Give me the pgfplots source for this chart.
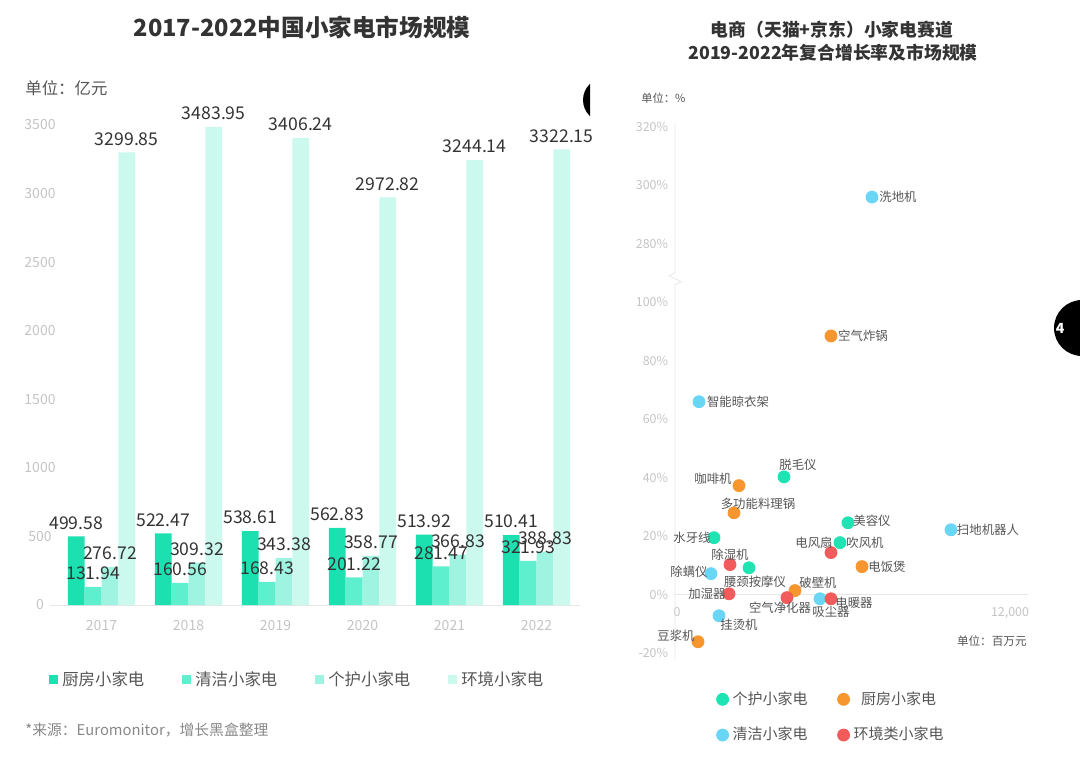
\documentclass[border=0pt]{standalone}
\usepackage{fontspec}
\setmainfont{Noto Sans CJK SC}
\usepackage{pgfplots}
\usepackage{pgfplotstable}
\pgfplotsset{compat=1.18}

\definecolor{ckit}{HTML}{1CE0B0}
\definecolor{ccln}{HTML}{5EEFCF}
\definecolor{cper}{HTML}{9FF4E1}
\definecolor{cenv}{HTML}{CBF9EE}
\definecolor{sgreen}{HTML}{1EE3B2}
\definecolor{sorange}{HTML}{F7962F}
\definecolor{sblue}{HTML}{6AD6F6}
\definecolor{sred}{HTML}{F25B5B}
\definecolor{tdark}{HTML}{333333}
\definecolor{tmid}{HTML}{555555}
\definecolor{tgray}{HTML}{888888}
\definecolor{tick}{HTML}{C4C4C4}
\definecolor{axl}{HTML}{E6E6E6}

% market size, 100 million yuan
\pgfplotstableread{
year kitchen clean personal env
0 499.58 131.94 276.72 3299.85
1 522.47 160.56 309.32 3483.95
2 538.61 168.43 343.38 3406.24
3 562.83 201.22 358.77 2972.82
4 513.92 281.47 366.83 3244.14
5 510.41 321.93 388.83 3322.15
}\market

% x: market size (million yuan), y: CAGR (%), dx/dy: label offset in px
\pgfplotstableread{
x y name dx dy
3856 40.3 脱毛仪 14 -12
6162 24.6 美容仪 24 -2
1333 19.5 水牙线 -22 0
5874 17.8 吹风机 25 0
2595 9.2 腰颈按摩仪 6 14
}\personal
\pgfplotstableread{
x y name dx dy
5550 88.5 空气炸锅 32 0
2234 37.3 咖啡机 -26 -7
2054 28.0 多功能料理锅 24 -9
6667 9.6 电饭煲 25 0
4252 1.4 破壁机 23 -8
757 -16.1 豆浆机 -22 -6
}\kitchen
\pgfplotstableread{
x y name dx dy
7027 296 洗地机 26 0
793 66.0 智能晾衣架 39 0
9874 22.2 扫地机器人 37 0
1225 7.2 除螨仪 -22 -2
5153 -1.4 吸尘器 11 13
1514 -7.2 挂烫机 20 9
}\cleaning
\pgfplotstableread{
x y name dx dy
5550 14.4 电风扇 -17 -10
1910 10.3 除湿机 0 -10
1874 0.3 加湿器 -22 0
3964 -1.0 空气净化器 -7 10
5550 -1.4 电暖器 23 4
}\environ

\begin{document}
\begin{tikzpicture}
\path[use as bounding box] (0pt,0pt) rectangle (540pt,-379pt);

% ---------- left: bar chart ----------
\node[font=\bfseries\fontsize{11.8}{14}\selectfont, text=tdark] at (151pt,-13.5pt) {2017-2022中国小家电市场规模};
\node[anchor=west, font=\fontsize{8.2}{10}\selectfont, text=tmid, inner sep=0pt] at (12.5pt,-44pt) {单位：亿元};
\node[anchor=west, font=\fontsize{7.4}{9}\selectfont, text=tgray, inner sep=0pt] at (12.5pt,-365pt) {*来源：Euromonitor，增长黑盒整理};

\begin{axis}[
    at={(25pt,-302.5pt)}, anchor=south west,
    scale only axis, width=265pt, height=240pt,
    ybar=0pt, bar width=8.4pt,
    xmin=-0.592, xmax=5.5, ymin=0, ymax=3500,
    xtick={0,...,5}, xticklabels={2017,2018,2019,2020,2021,2022},
    ytick={0,500,...,3500},
    axis x line*=bottom, axis y line*=left,
    x axis line style={draw=axl, -},
    y axis line style={draw=none},
    major tick length=0pt,
    /pgf/number format/1000 sep={},
    /pgf/number format/assume math mode=true,
    tick label style={font=\fontsize{7}{8}\selectfont, text=tick},
    xticklabel style={yshift=-4pt},
    yticklabel style={anchor=center, xshift=-5pt},
    nodes near coords={\pgfmathprintnumber[fixed,fixed zerofill,precision=2,1000 sep={}]{\pgfplotspointmeta}},
    every node near coord/.append style={font=\fontsize{8.8}{10}\selectfont, text=tdark},
    clip=false,
    legend columns=4,
    legend style={draw=none, fill=none, anchor=west, at={(-0.002,-0.156)}, inner sep=0pt,
        font=\fontsize{8.2}{10}\selectfont, text=tmid,
        /tikz/every even column/.append style={column sep=17pt}},
    legend image code/.code={\fill[#1] (0pt,-2.25pt) rectangle (4.5pt,2.25pt);},
]
\addplot[fill=ckit, draw=none] table[x=year, y=kitchen] {\market};
\addplot[fill=ccln, draw=none] table[x=year, y=clean] {\market};
\addplot[fill=cper, draw=none] table[x=year, y=personal] {\market};
\addplot[fill=cenv, draw=none] table[x=year, y=env] {\market};
\legend{厨房小家电, 清洁小家电, 个护小家电, 环境小家电}
\end{axis}

% page artefacts of the screenshot
\begin{scope}
\clip (280pt,-30pt) rectangle (295pt,-70pt);
\fill[black] (302.5pt,-50pt) circle (11pt);
\end{scope}
\fill[black] (541pt,-164pt) circle (14pt);
\node[text=white, font=\bfseries\fontsize{7}{8}\selectfont] at (530pt,-164pt) {4};

% ---------- right: scatter chart ----------
\node[font=\bfseries\fontsize{8.9}{10}\selectfont, text=tdark] at (416pt,-15pt) {电商（天猫+京东）小家电赛道};
\node[font=\bfseries\fontsize{8.9}{10}\selectfont, text=tdark] at (416.5pt,-26.5pt) {2019-2022年复合增长率及市场规模};
\node[anchor=west, font=\fontsize{5.6}{7}\selectfont, text=tmid, inner sep=0pt] at (320.5pt,-49pt) {单位：\%};
\node[anchor=east, font=\fontsize{5.8}{7}\selectfont, text=tmid, inner sep=0pt] at (513.5pt,-320.5pt) {单位：百万元};

\begin{axis}[
    at={(337.5pt,-329.5pt)}, anchor=south west,
    scale only axis, width=176.5pt, height=267.5pt,
    xmin=-72, xmax=12650, ymin=-22, ymax=321,
    y coord trafo/.code={\pgfmathparse{#1>200 ? #1-160 : #1}},
    y coord inv trafo/.code={\pgfmathparse{#1>120 ? #1+160 : #1}},
    xtick={0,12000}, scaled x ticks=false,
    ytick={-20,0,20,40,60,80,100,280,300,320},
    yticklabels={-20\%,0\%,20\%,40\%,60\%,80\%,100\%,280\%,300\%,320\%},
    axis x line*=middle, axis y line*=left,
    x axis line style={draw=axl, -},
    y axis line style={draw=none},
    major tick length=0pt,
    /pgf/number format/assume math mode=true,
    tick label style={font=\fontsize{6.2}{7}\selectfont, text=tick},
    xticklabel style={yshift=-3pt},
    clip=false,
    only marks,
    point meta=explicit symbolic,
    nodes near coords={\pgfplotspointmeta},
    visualization depends on={\thisrow{dx} \as \lx},
    visualization depends on={\thisrow{dy} \as \ly},
    every node near coord/.append style={anchor=center, inner sep=0pt,
        font=\fontsize{6.2}{7}\selectfont, text=tmid,
        xshift={0.5pt*(\lx)}, yshift={0.5pt*(0-(\ly))}},
    legend columns=2,
    legend style={draw=none, fill=none, anchor=north, at={(0.445,-0.045)},
        font=\fontsize{7.5}{9}\selectfont, text=tmid,
        /tikz/every even column/.append style={column sep=13pt},
        /tikz/row sep=6pt},
]
\draw[axl] (axis cs:-72,-22) -- (axis cs:-72,106) -- ++(3pt,1.5pt) -- ++(-6pt,3pt) -- ++(3pt,1.5pt) -- (axis cs:-72,321);
\addplot[color=sgreen, mark=*, mark size=3pt, mark options={draw=sgreen, fill=sgreen}] table[x=x, y=y, meta=name] {\personal};
\addplot[color=sorange, mark=*, mark size=3pt, mark options={draw=sorange, fill=sorange}] table[x=x, y=y, meta=name] {\kitchen};
\addplot[color=sblue, mark=*, mark size=3pt, mark options={draw=sblue, fill=sblue}] table[x=x, y=y, meta=name] {\cleaning};
\addplot[color=sred, mark=*, mark size=3pt, mark options={draw=sred, fill=sred}] table[x=x, y=y, meta=name] {\environ};
\legend{个护小家电, 厨房小家电, 清洁小家电, 环境类小家电}
\end{axis}
\end{tikzpicture}
\end{document}
